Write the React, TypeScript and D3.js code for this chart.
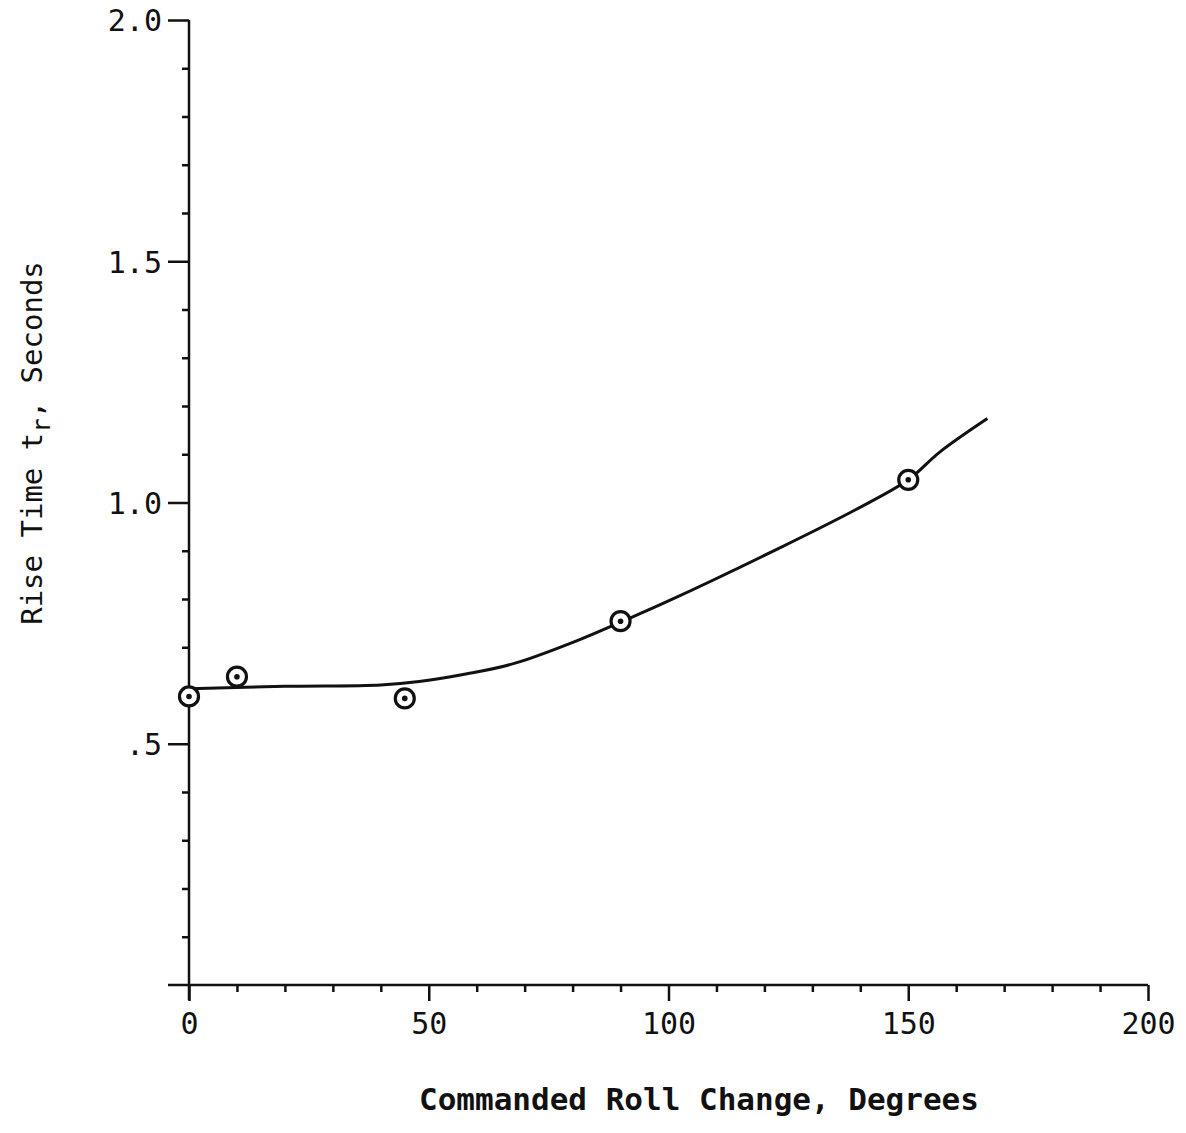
import React, { useEffect, useRef } from "react";
import * as d3 from "d3";

// measured points (commanded roll change in degrees, rise time in seconds)
const pointX = [0, 10, 45, 90, 150];
const pointY = [0.598, 0.639, 0.594, 0.754, 1.047];

// faired curve drawn through the data
const curveX = [0, 20, 40, 48, 58, 68, 81.5, 90, 100, 123, 139, 150, 156.5, 166.5];
const curveY = [0.614, 0.619, 0.622, 0.629, 0.645, 0.667, 0.716, 0.752, 0.796, 0.905, 0.985, 1.047, 1.104, 1.174];

const xMajor = [0, 50, 100, 150, 200];
const xMajorLabels = ["0", "50", "100", "150", "200"];
const yMajor = [0.5, 1.0, 1.5, 2.0];
const yMajorLabels = [".5", "1.0", "1.5", "2.0"];

const W = 1186;
const H = 1133;

export default function App() {
  const ref = useRef<SVGSVGElement>(null);

  useEffect(() => {
    const svg = d3.select(ref.current);
    svg.selectAll("*").remove();

    const x = d3.scaleLinear().domain([0, 200]).range([189, 1148]);
    const y = d3.scaleLinear().domain([0, 2]).range([985, 20]);

    const ink = "#111";
    const font = "'DejaVu Sans Mono', monospace";

    // minor ticks
    const xMinor = d3.range(0, 201, 10).filter((v) => v % 50 !== 0);
    const yMinor = d3.range(1, 20).map((v) => v / 10).filter((v) => Math.round(v * 10) % 5 !== 0);

    const xAxis = svg.append("g").attr("transform", `translate(0,${y(0)})`);
    xAxis
      .call(d3.axisBottom(x).tickValues(xMinor).tickSize(7).tickFormat(() => "").tickSizeOuter(0))
      .call((g) => g.select(".domain").remove());
    xAxis.selectAll("line").attr("stroke", ink).attr("stroke-width", 2.5);

    const xAxisMajor = svg.append("g").attr("transform", `translate(0,${y(0)})`);
    xAxisMajor.call(
      d3
        .axisBottom(x)
        .tickValues(xMajor)
        .tickSize(16)
        .tickPadding(12)
        .tickSizeOuter(0)
        .tickFormat((d, i) => xMajorLabels[i])
    );
    xAxisMajor.select(".domain").remove();
    xAxisMajor.selectAll("line").attr("stroke", ink).attr("stroke-width", 2.5);
    xAxisMajor
      .selectAll("text")
      .attr("fill", ink)
      .style("font-family", font)
      .style("font-size", "30px")
      .attr("dy", "0.71em");

    const yAxis = svg.append("g").attr("transform", `translate(${x(0)},0)`);
    yAxis
      .call(d3.axisLeft(y).tickValues(yMinor).tickSize(7).tickFormat(() => "").tickSizeOuter(0))
      .call((g) => g.select(".domain").remove());
    yAxis.selectAll("line").attr("stroke", ink).attr("stroke-width", 2.5);

    const yAxisMajor = svg.append("g").attr("transform", `translate(${x(0)},0)`);
    yAxisMajor.call(
      d3
        .axisLeft(y)
        .tickValues(yMajor)
        .tickSize(21)
        .tickPadding(6)
        .tickSizeOuter(0)
        .tickFormat((d, i) => yMajorLabels[i])
    );
    yAxisMajor.select(".domain").remove();
    yAxisMajor.selectAll("line").attr("stroke", ink).attr("stroke-width", 2.5);
    yAxisMajor
      .selectAll("text")
      .attr("fill", ink)
      .style("font-family", font)
      .style("font-size", "30px")
      .attr("dy", "0.36em");

    // axis lines
    svg
      .append("line")
      .attr("x1", x(0) - 21)
      .attr("x2", x(200))
      .attr("y1", y(0))
      .attr("y2", y(0))
      .attr("stroke", ink)
      .attr("stroke-width", 2.5);
    svg
      .append("line")
      .attr("x1", x(0))
      .attr("x2", x(0))
      .attr("y1", y(2))
      .attr("y2", y(0) + 15)
      .attr("stroke", ink)
      .attr("stroke-width", 2.5);

    // faired curve
    const curve = curveX.map((v, i) => [v, curveY[i]] as [number, number]);
    const line = d3
      .line<[number, number]>()
      .x((d) => x(d[0]))
      .y((d) => y(d[1]))
      .curve(d3.curveCatmullRom.alpha(0.5));
    svg
      .append("path")
      .attr("d", line(curve))
      .attr("fill", "none")
      .attr("stroke", ink)
      .attr("stroke-width", 3);

    // data markers
    const pts = pointX.map((v, i) => ({ x: v, y: pointY[i] }));
    const marks = svg
      .selectAll(".pt")
      .data(pts)
      .enter()
      .append("g")
      .attr("class", "pt")
      .attr("transform", (d) => `translate(${x(d.x)},${y(d.y)})`);
    marks
      .append("circle")
      .attr("r", 9.5)
      .attr("fill", "#fff")
      .attr("stroke", ink)
      .attr("stroke-width", 3.2);
    marks.append("circle").attr("r", 2.8).attr("fill", ink);

    // axis titles
    svg
      .append("text")
      .attr("x", 699)
      .attr("y", 1110)
      .attr("text-anchor", "middle")
      .attr("fill", ink)
      .style("font-family", font)
      .style("font-size", "31px")
      .style("font-weight", "bold")
      .text("Commanded Roll Change, Degrees");

    const yt = svg
      .append("text")
      .attr("transform", "translate(42,443) rotate(-90)")
      .attr("text-anchor", "middle")
      .attr("fill", ink)
      .style("font-family", font)
      .style("font-size", "29px");
    yt.append("tspan").text("Rise Time t");
    yt.append("tspan").attr("dy", 8).style("font-size", "24px").text("r");
    yt.append("tspan").attr("dy", -8).text(", Seconds");
  }, []);

  return (
    <svg
      ref={ref}
      width={W}
      height={H}
      style={{ position: "absolute", left: 0, top: 0, background: "#fff" }}
    />
  );
}
